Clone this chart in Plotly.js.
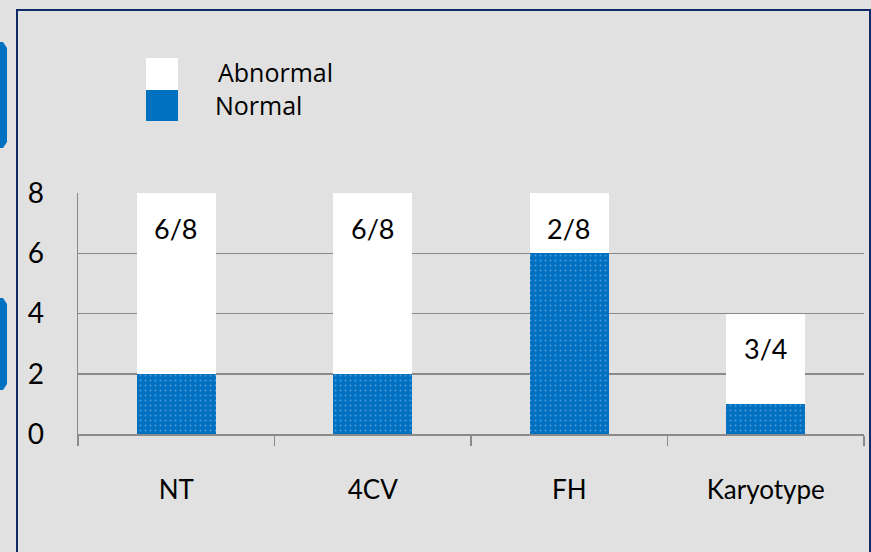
<!DOCTYPE html>
<html>
<head>
<meta charset="utf-8">
<script src="https://cdn.plot.ly/plotly-3.0.1.min.js"></script>
<style>html,body{margin:0;padding:0;background:#e1e1e1;}#chart{width:871px;height:552px;}</style>
</head>
<body>
<div id="chart"></div>
<script>
const categories = ['NT', '4CV', 'FH', 'Karyotype'];
const normalValues = [2, 2, 6, 1];
const abnormalValues = [6, 6, 2, 3];
const seriesNames = ['Abnormal', 'Normal'];
const yTicks = [0, 2, 4, 6, 8];

const W = 871, H = 552;
const M = {l: 78, r: 7, t: 193, b: 118};
const pw = W - M.l - M.r, ph = H - M.t - M.b;
const px = x => (x - M.l) / pw;
const py = y => (H - M.b - y) / ph;

const totals = normalValues.map((v, i) => v + abnormalValues[i]);
const labels = abnormalValues.map((v, i) => v + '/' + totals[i]);

const labelFont = 'Lato, sans-serif';
const blue = '#0070c0';
const traces = [
  {
    type: 'bar', name: seriesNames[1], x: categories, y: normalValues,
    marker: {color: blue, line: {width: 0},
      pattern: {shape: '.', fgcolor: '#4f9ad8', bgcolor: blue, size: 5, solidity: 0.12}},
    hoverinfo: 'skip', showlegend: false
  },
  {
    type: 'bar', name: seriesNames[0], x: categories, y: abnormalValues,
    marker: {color: '#ffffff', line: {width: 0}},
    hoverinfo: 'skip', showlegend: false
  }
];

const annotations = categories.map((c, i) => ({
  x: c, y: totals[i], xref: 'x', yref: 'y', text: labels[i], showarrow: false,
  yanchor: 'middle', yshift: -35, font: {family: labelFont, size: 27, color: '#000'}
}));
annotations.push({x: px(216), y: py(72), xref: 'paper', yref: 'paper', xanchor: 'left', yanchor: 'middle',
  text: seriesNames[0], showarrow: false, font: {family: 'Open Sans, sans-serif', size: 25, color: '#000'}});
annotations.push({x: px(213), y: py(105), xref: 'paper', yref: 'paper', xanchor: 'left', yanchor: 'middle',
  text: seriesNames[1], showarrow: false, font: {family: 'Open Sans, sans-serif', size: 25, color: '#000'}});

const shapes = [
  {type: 'rect', xref: 'paper', yref: 'paper', x0: px(17), x1: px(870), y0: py(575), y1: py(10),
   line: {color: '#0f2a66', width: 2}, fillcolor: 'rgba(0,0,0,0)', layer: 'below'},
  {type: 'path', xref: 'paper', yref: 'paper', layer: 'above',
   path: 'M ' + px(-5) + ',' + py(42) + ' L ' + px(3) + ',' + py(42) + ' L ' + px(7) + ',' + py(48) + ' L ' + px(7) + ',' + py(142) + ' L ' + px(3) + ',' + py(148) + ' L ' + px(-5) + ',' + py(148) + ' Z',
   fillcolor: blue, line: {width: 0}},
  {type: 'path', xref: 'paper', yref: 'paper', layer: 'above',
   path: 'M ' + px(-5) + ',' + py(298) + ' L ' + px(3) + ',' + py(298) + ' L ' + px(7) + ',' + py(304) + ' L ' + px(7) + ',' + py(384) + ' L ' + px(3) + ',' + py(390) + ' L ' + px(-5) + ',' + py(390) + ' Z',
   fillcolor: blue, line: {width: 0}},
  {type: 'rect', xref: 'paper', yref: 'paper', x0: px(146), x1: px(178), y0: py(90), y1: py(58),
   fillcolor: '#ffffff', line: {width: 0}},
  {type: 'rect', xref: 'paper', yref: 'paper', x0: px(146), x1: px(178), y0: py(121), y1: py(90),
   fillcolor: blue, line: {width: 0}}
];

const layout = {
  width: W, height: H, margin: M,
  paper_bgcolor: '#e1e1e1', plot_bgcolor: '#e1e1e1',
  barmode: 'stack', bargap: 0.6, showlegend: false,
  xaxis: {
    type: 'category', showgrid: false, showline: true, linecolor: '#8a8a8a', linewidth: 1.5,
    ticks: 'outside', tickson: 'boundaries', ticklen: 10, tickcolor: '#8a8a8a', tickwidth: 1.5,
    ticklabelstandoff: 32,
    tickfont: {family: labelFont, size: 26, color: '#000'}
  },
  yaxis: {
    range: [0, 8], tickvals: yTicks, showgrid: true, gridcolor: '#8a8a8a', gridwidth: 1.5,
    showline: true, linecolor: '#8a8a8a', linewidth: 1.5, zeroline: false, ticks: '',
    ticklabelstandoff: 27,
    tickfont: {family: labelFont, size: 28, color: '#000'}
  },
  annotations: annotations, shapes: shapes
};

Plotly.newPlot('chart', traces, layout, {staticPlot: true, displayModeBar: false});
</script>
</body>
</html>
